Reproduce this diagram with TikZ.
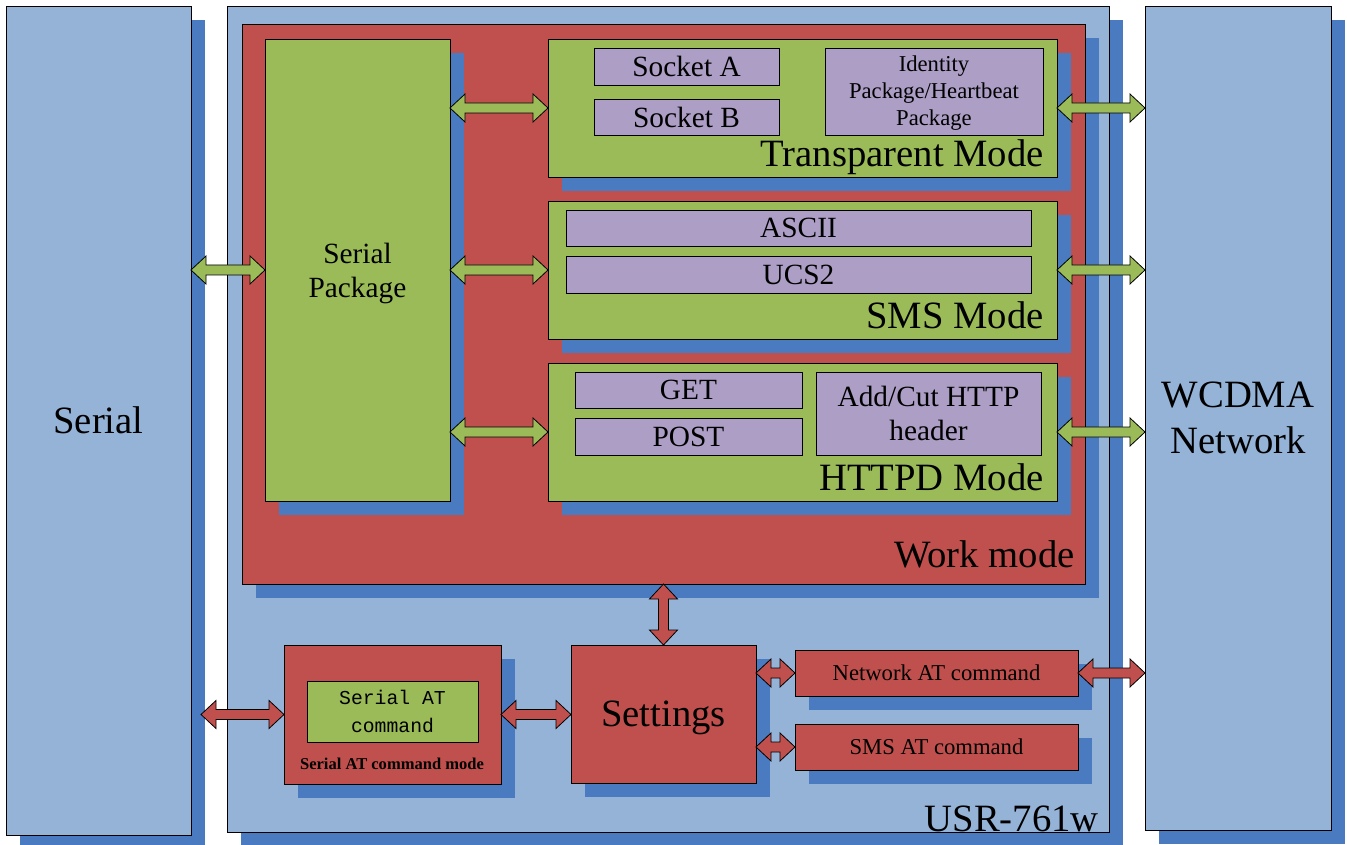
\documentclass[tikz,border=0pt]{standalone}
\usepackage{fontspec}
\setmainfont{Liberation Serif}
\newfontfamily\monof{Liberation Mono}
\usetikzlibrary{fit,calc,shadows}
\definecolor{lbluec}{HTML}{95B3D7}
\definecolor{shadowc}{HTML}{4A7BC0}
\definecolor{redc}{HTML}{C0504D}
\definecolor{greenc}{HTML}{9BBB59}
\definecolor{purplec}{HTML}{AC9EC5}
\newcommand\fbig{\fontsize{29}{34.5}\selectfont}
\newcommand\fmid{\fontsize{22}{26}\selectfont}
\newcommand\fsml{\fontsize{17}{20.3}\selectfont}
\newcommand\dblarr[3]{%
  \filldraw[arrsty, fill=#1] let \p1=(#2), \p2=(#3), \n1={atan2(\y2-\y1,\x2-\x1)} in
    (\p1) -- ($(\p1)+(\n1:11.25pt)+(\n1+90:10.5pt)$)
          -- ($(\p1)+(\n1:11.25pt)+(\n1+90:3.75pt)$)
          -- ($(\p2)+(\n1:-11.25pt)+(\n1+90:3.75pt)$)
          -- ($(\p2)+(\n1:-11.25pt)+(\n1+90:10.5pt)$)
          -- (\p2)
          -- ($(\p2)+(\n1:-11.25pt)+(\n1+90:-10.5pt)$)
          -- ($(\p2)+(\n1:-11.25pt)+(\n1+90:-3.75pt)$)
          -- ($(\p1)+(\n1:11.25pt)+(\n1+90:-3.75pt)$)
          -- ($(\p1)+(\n1:11.25pt)+(\n1+90:-10.5pt)$)
          -- cycle;}
\begin{document}
\begin{tikzpicture}[x=0.75pt,y=-0.75pt,
  box/.style={draw=black, line width=0.7pt, inner sep=0pt, outer sep=0pt},
  lb/.style={box, fill=lbluec},
  rd/.style={box, fill=redc},
  gr/.style={box, fill=greenc},
  pu/.style={box, fill=purplec},
  sh/.style={general shadow={fill=shadowc, shadow xshift=10.5pt, shadow yshift=-10.5pt}},
  txt/.style={inner sep=0pt, align=center},
  arrsty/.style={draw=black, line width=0.6pt, line join=miter},
  corner/.style={anchor=base east, inner sep=0pt, font=\fbig}]
\fill[white] (0,0) rectangle (1347,845);
\useasboundingbox (0,0) rectangle (1347,845);
% big containers
\node[lb, sh, fit={(6,6)(191,835)}] (serial) {};
\node[txt, font=\fbig] (serialt) at (serial.center) {Serial};
\node[lb, sh, fit={(227,6)(1109,832)}] (usr) {};
\node[lb, sh, fit={(1145,6)(1331,830)}] (wc) {};
\node[txt, font=\fbig] (wct) at (wc.center) {WCDMA\\Network};
\node[corner] (usrl) at ($(usr.south east)+(-10,-1)$) {USR-761w};
% work mode
\node[rd, sh, fit={(242,24)(1085,584)}] (wm) {};
\node[corner] (wml) at ($(wm.south east)+(-10,-17)$) {Work mode};
\node[gr, sh, fit={(265,39)(450,501)}] (sp) {};
\node[txt, font=\fmid] (spt) at ($(sp.center)+(0,3.5)$) {Serial\\Package};
% transparent mode
\node[gr, sh, fit={(548,39)(1057,177)}] (tm) {};
\node[pu, fit={(594,48)(779,85)}] (sa) {};
\node[txt, font=\fmid] (sat1) at (sa.center) {Socket A};
\node[pu, fit={(594,99)(779,135)}] (sb) {};
\node[txt, font=\fmid] (sbt) at (sb.center) {Socket B};
\node[pu, fit={(825,48)(1043,135)}] (id) {};
\node[txt, font=\fsml] (idt) at ($(id.center)+(0,2)$) {Identity\\Package/Heartbeat\\Package};
\node[corner] (tml) at ($(tm.south east)+(-13,-10)$) {Transparent Mode};
% SMS mode
\node[gr, sh, fit={(548,201)(1057,339)}] (sm) {};
\node[pu, fit={(566,210)(1031,246)}] (asc) {};
\node[txt, font=\fmid] (asct) at (asc.center) {ASCII};
\node[pu, fit={(566,256)(1031,293)}] (ucs) {};
\node[txt, font=\fmid] (ucst) at (ucs.center) {UCS2};
\node[corner] (sml) at ($(sm.south east)+(-13,-10)$) {SMS Mode};
% HTTPD mode
\node[gr, sh, fit={(548,363)(1057,501)}] (hm) {};
\node[pu, fit={(575,372)(802,408)}] (get) {};
\node[txt, font=\fmid] (gett) at (get.center) {GET};
\node[pu, fit={(575,418)(802,455)}] (post) {};
\node[txt, font=\fmid] (postt) at (post.center) {POST};
\node[pu, fit={(816,372)(1041,455)}] (hdr) {};
\node[txt, font=\fmid] (hdrt) at (hdr.center) {Add/Cut HTTP\\header};
\node[corner] (hml) at ($(hm.south east)+(-13,-11)$) {HTTPD Mode};
% bottom row
\node[rd, sh, fit={(284,645)(501,784)}] (sat) {};
\node[gr, fit={(307,681)(478,742)}] (satc) {};
\node[txt, font=\monof\fontsize{14.8}{21}\selectfont] (satct) at (satc.center) {Serial AT\\command};
\node[anchor=base, inner sep=0pt, font=\bfseries\fontsize{12.4}{15}\selectfont] (satl) at (392,769) {Serial AT command mode};
\node[rd, sh, fit={(571,645)(756,783)}] (set) {};
\node[txt, font=\fbig] (sett) at ($(set.center)+(0,4)$) {Settings};
\node[rd, sh, fit={(795,650)(1078,696)}] (net) {};
\node[txt, font=\fsml] (nett) at (net.center) {Network AT command};
\node[rd, sh, fit={(795,724)(1078,770)}] (smsat) {};
\node[txt, font=\fsml] (smsatt) at (smsat.center) {SMS AT command};
% arrows
\dblarr{greenc}{serial.east |- sp.west}{sp.west}
\dblarr{greenc}{sp.east |- tm.west}{tm.west}
\dblarr{greenc}{sp.east |- sm.west}{sm.west}
\dblarr{greenc}{sp.east |- hm.west}{hm.west}
\dblarr{greenc}{tm.east}{wc.west |- tm.east}
\dblarr{greenc}{sm.east}{wc.west |- sm.east}
\dblarr{greenc}{hm.east}{wc.west |- hm.east}
\dblarr{redc}{set.north |- wm.south}{set.north}
\dblarr{redc}{$(serial.east |- sat.west)+(10,0)$}{sat.west}
\dblarr{redc}{sat.east}{set.west |- sat.east}
\dblarr{redc}{set.east |- net.west}{net.west}
\dblarr{redc}{set.east |- smsat.west}{smsat.west}
\dblarr{redc}{net.east}{wc.west |- net.east}
\end{tikzpicture}
\end{document}
